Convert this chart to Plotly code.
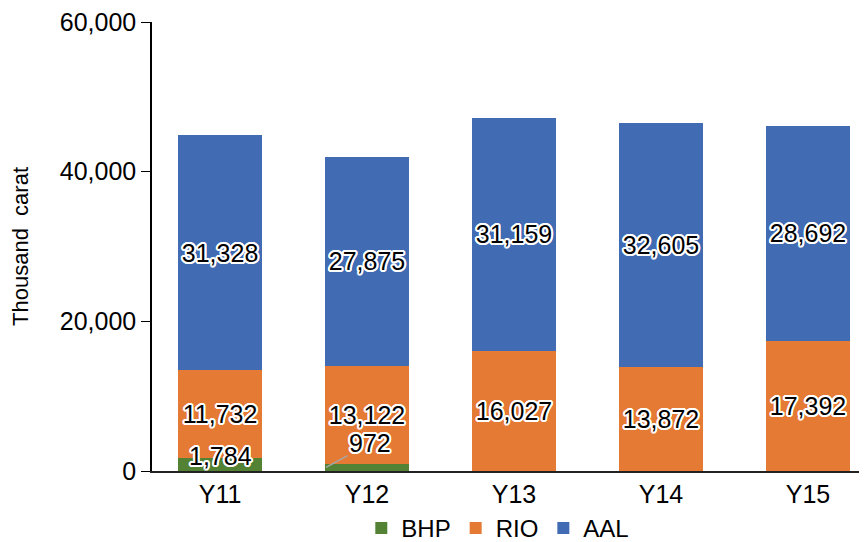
import plotly.graph_objects as go

categories = ["Y11", "Y12", "Y13", "Y14", "Y15"]
bhp = [1784, 972, 0, 0, 0]
rio = [11732, 13122, 16027, 13872, 17392]
aal = [31328, 27875, 31159, 32605, 28692]
y_ticks = [0, 20000, 40000, 60000]

FONT = "Liberation Sans, Arial, Helvetica, sans-serif"
_offs = [(1, 1), (-1, -1), (1, -1), (-1, 1), (0, 2), (0, -2), (2, 0), (-2, 0),
         (2, 1), (-2, 1), (2, -1), (-2, -1), (1, 2), (-1, 2), (1, -2), (-1, -2)]
SHADOW = ", ".join(f"{a}px {b}px 0.5px #fff" for a, b in _offs)
LABEL_FONT = dict(family=FONT, size=25, color="black", shadow=SHADOW)


def fmt(v):
    return f"{v:,}"


fig = go.Figure()
fig.add_trace(go.Bar(name="BHP", x=categories, y=bhp, marker_color="#548235",
                     marker_line_width=0))
fig.add_trace(go.Bar(name="RIO", x=categories, y=rio, marker_color="#E57A35",
                     marker_line_width=0,
                     text=[fmt(v) for v in rio], textposition="inside",
                     insidetextanchor="middle", textangle=0,
                     constraintext="none", textfont=LABEL_FONT))
fig.add_trace(go.Bar(name="AAL", x=categories, y=aal, marker_color="#416CB4",
                     marker_line_width=0,
                     text=[fmt(v) for v in aal], textposition="inside",
                     insidetextanchor="middle", textangle=0,
                     constraintext="none", textfont=LABEL_FONT))

# BHP labels as annotations (segments too thin for inside text)
fig.add_annotation(x=categories[0], y=bhp[0], text=fmt(bhp[0]), showarrow=False,
                   yanchor="middle", yshift=2, font=LABEL_FONT)
fig.add_annotation(x=categories[1], y=bhp[1] / 2, text=fmt(bhp[1]),
                   showarrow=True, arrowhead=0, arrowwidth=1.5, arrowcolor="#A6A6A6",
                   ax=44, ay=-24, xshift=-41, xanchor="center", yanchor="middle",
                   font=LABEL_FONT)

# page body has an 8px default margin: margins compensate for it; the figure is
# slightly taller than the window so the legend never pushes the plot margins
fig.update_layout(
    barmode="stack",
    bargap=0.43,
    width=867, height=560,
    margin=dict(l=144, r=10, t=14, b=97),
    paper_bgcolor="white", plot_bgcolor="white",
    font=dict(family=FONT, size=24, color="black"),
    showlegend=True,
    legend=dict(orientation="h", x=0.485, xanchor="center", y=-0.178, yanchor="bottom",
                font=dict(family=FONT, size=24), itemwidth=30,
                traceorder="normal", tracegroupgap=0),
    xaxis=dict(range=[-0.463, 4.388], showline=True, linecolor="#222", linewidth=2,
               showgrid=False, ticks="", tickfont=dict(size=25), automargin=False),
    yaxis=dict(range=[0, 60000], tickvals=y_ticks, tickformat=",d", showgrid=False,
               showline=True, linecolor="black", linewidth=1.5, ticks="outside",
               ticklen=9, tickwidth=1.2, tickcolor="black", zeroline=False,
               tickfont=dict(size=25), automargin=False, ticklabeloverflow="allow",
               title=dict(text="Thousand\u00a0 carat", font=dict(size=22), standoff=28)),
)

fig.write_html("out.html")
